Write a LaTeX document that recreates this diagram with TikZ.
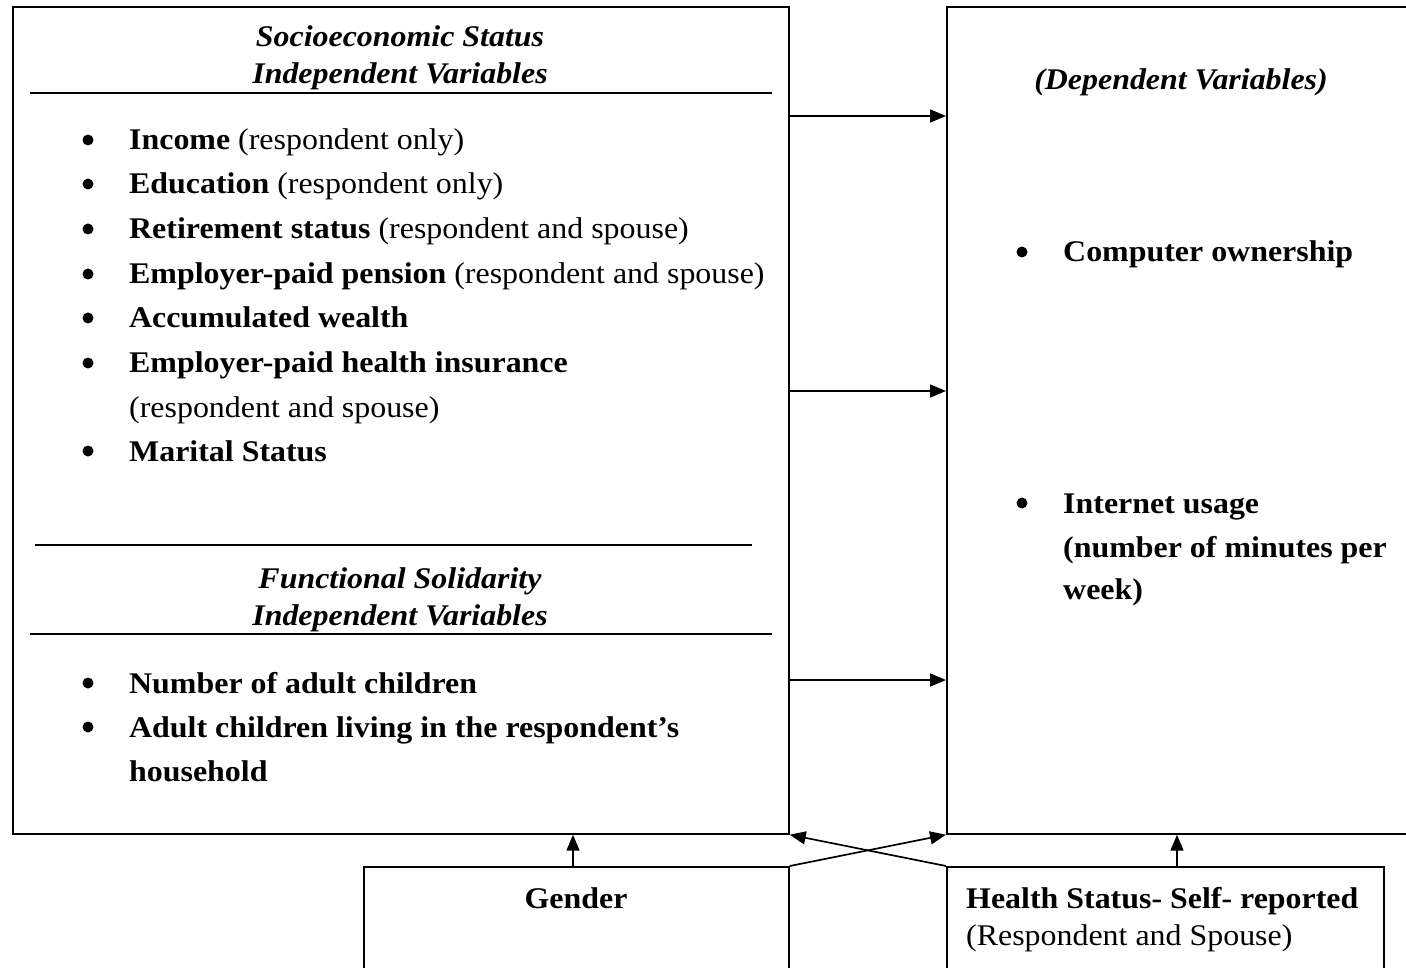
\documentclass[tikz,border=0pt]{standalone}
\usepackage{fontspec}
\setmainfont{Liberation Serif}
\usetikzlibrary{arrows.meta}
\newcommand\wide[1]{\scalebox{1.064}[1]{#1}}
\begin{document}
\begin{tikzpicture}[x=1pt,y=-1pt,
  box/.style={draw, line width=1.7pt, inner sep=0pt, anchor=north west},
  txt/.style={inner sep=0pt, font=\fontsize{30}{36}\selectfont},
  lft/.style={txt, anchor=base west},
  ctr/.style={txt, anchor=base},
  dot/.style={circle, fill, inner sep=0pt, minimum size=11pt},
  rule/.style={line width=1.7pt},
  arr/.style={line width=1.7pt, -{Triangle[length=16pt,width=13pt]}}]
\useasboundingbox (0,0) rectangle (1406,968);
% boxes
\node[box, minimum width=776pt, minimum height=827pt] (L) at (12,6) {};
\node[box, minimum width=480pt, minimum height=827pt] (R) at (946,6) {};
\node[box, minimum width=425pt, minimum height=130pt] (G) at (363,866) {};
\node[box, minimum width=437pt, minimum height=130pt] (H) at (946,866) {};
% left box header
\node[ctr] (h1) at (400,47) {\wide{\textbf{\textit{Socioeconomic Status}}}};
\node[ctr] (h2) at (400,84) {\wide{\textbf{\textit{Independent Variables}}}};
\coordinate (r1a) at (30,93); \coordinate (r1b) at (772,93);
\draw[rule] (r1a) -- (r1b);
% bullets
\foreach \y in {150,194,239,284,328,373,461,693,737}{\node[dot] at (88,\y-10) {};}
\node[lft] (i1) at (129,150) {\wide{\textbf{Income} (respondent only)}};
\node[lft] (i2) at (129,194) {\wide{\textbf{Education} (respondent only)}};
\node[lft] (i3) at (129,239) {\wide{\textbf{Retirement status} (respondent and spouse)}};
\node[lft] (i4) at (129,284) {\wide{\textbf{Employer-paid pension} (respondent and spouse)}};
\node[lft] (i5) at (129,328) {\wide{\textbf{Accumulated wealth}}};
\node[lft] (i6) at (129,373) {\wide{\textbf{Employer-paid health insurance}}};
\node[lft] (i6b) at (129,417) {\wide{(respondent and spouse)}};
\node[lft] (i7) at (129,461) {\wide{\textbf{Marital Status}}};
\coordinate (r2a) at (35,545); \coordinate (r2b) at (752,545);
\draw[rule] (r2a) -- (r2b);
\node[ctr] (f1) at (400,588) {\wide{\textbf{\textit{Functional Solidarity}}}};
\node[ctr] (f2) at (400,625) {\wide{\textbf{\textit{Independent Variables}}}};
\coordinate (r3a) at (30,634); \coordinate (r3b) at (772,634);
\draw[rule] (r3a) -- (r3b);
\node[lft] (j1) at (129,693) {\wide{\textbf{Number of adult children}}};
\node[lft] (j2) at (129,737) {\wide{\textbf{Adult children living in the respondent's}}};
\node[lft] (j2b) at (129,781) {\wide{\textbf{household}}};
% right box
\node[ctr] (d0) at (1181,90) {\wide{\textbf{\textit{(Dependent Variables)}}}};
\node[dot] at (1022,252) {};
\node[lft] (d1) at (1063,262) {\wide{\textbf{Computer ownership}}};
\node[dot] at (1022,503) {};
\node[lft] (d2) at (1063,513) {\wide{\textbf{Internet usage}}};
\node[lft] (d2b) at (1063,557) {\wide{\textbf{(number of minutes per}}};
\node[lft] (d2c) at (1063,599) {\wide{\textbf{week)}}};
% bottom boxes
\node[ctr] (gt) at (576,908) {\wide{\textbf{Gender}}};
\node[lft] (ht) at (966,908) {\wide{\textbf{Health Status- Self- reported}}};
\node[lft] (ht2) at (966,945) {\wide{(Respondent and Spouse)}};
% arrows
\foreach \y in {116,391,680}{\draw[arr] (L.east |- 0,\y) -- (R.west |- 0,\y);}
\draw[arr] (G.north -| 573,0) -- (L.south -| 573,0);
\draw[arr] (H.north -| 1177,0) -- (R.south -| 1177,0);
\draw[arr] (G.north east) -- (R.south west);
\draw[arr] (H.north west) -- (L.south east);
\end{tikzpicture}
\end{document}
